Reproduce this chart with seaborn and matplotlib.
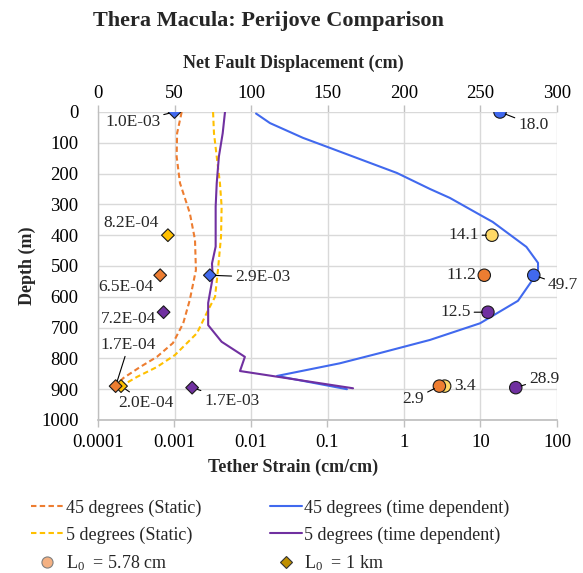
import matplotlib
matplotlib.use("Agg")
import matplotlib.pyplot as plt
import seaborn as sns
import pandas as pd
from matplotlib.lines import Line2D
from matplotlib.ticker import FixedLocator, FixedFormatter, NullLocator

# ---------------- data ----------------
static45_depth = [0, 69, 145, 231, 328, 415, 513, 610, 686, 750, 795, 828, 864, 886]
static45_disp = [54.7, 51.7, 51.4, 53.6, 60, 63.4, 64, 60, 55.7, 49, 38.5, 27.5, 16.5, 12.4]

static5_depth = [0, 69, 145, 231, 307, 405, 513, 600, 643, 718, 789, 828, 860, 886]
static5_disp = [75.2, 75.8, 77.6, 79.7, 80.8, 80.4, 78.4, 76.5, 72, 64.7, 50.3, 38.5, 25.5, 16.5]

td45_depth = [5, 36, 84, 113, 198, 250, 279, 334, 357, 438, 490, 513, 545, 613, 686, 740, 783, 816, 857, 900]
td45_disp = [103.3, 112.4, 134, 149.7, 195.4, 217, 230, 249.7, 258, 280, 287.6, 287.6, 284, 274.5,
             249.7, 217, 184, 158, 117, 162.7]

td5_depth = [0, 69, 145, 231, 307, 437, 492, 537, 620, 692, 746, 795, 841, 897]
td5_disp = [83, 81.5, 79, 77.6, 76.9, 76.9, 74.5, 75, 72, 72, 80.8, 96, 92.8, 166.7]

# markers: L0 = 1 km (diamonds)
dia_series = ["td45", "td45", "st5", "st5", "st45", "st45", "td5", "td5"]
dia_strain = [1.0e-3, 2.9e-3, 8.2e-4, 2.0e-4, 6.5e-4, 1.7e-4, 7.2e-4, 1.7e-3]
dia_depth = [0, 530, 400, 890, 530, 890, 650, 895]
dia_labels = ["1.0E-03", "2.9E-03", "8.2E-04", "2.0E-04", "6.5E-04", "1.7E-04", "7.2E-04", "1.7E-03"]

# markers: L0 = 5.78 cm (circles)
cir_series = ["td45", "td45", "st5", "st5", "st45", "st45", "td5", "td5"]
cir_strain = [18.0, 49.7, 14.1, 3.4, 11.2, 2.9, 12.5, 28.9]
cir_depth = [0, 530, 400, 890, 530, 890, 650, 895]
cir_labels = ["18.0", "49.7", "14.1", "3.4", "11.2", "2.9", "12.5", "28.9"]

top_ticks = [0, 50, 100, 150, 200, 250, 300]
bottom_ticks = [1e-4, 1e-3, 1e-2, 1e-1, 1, 10, 100]
bottom_ticklabels = ["0.0001", "0.001", "0.01", "0.1", "1", "10", "100"]
depth_ticks = [0, 100, 200, 300, 400, 500, 600, 700, 800, 900, 1000]

legend_names = ["45 degrees (Static)", "5 degrees (Static)", "45 degrees (time dependent)",
                "5 degrees (time dependent)", "L$_0$  = 5.78 cm", "L$_0$  = 1 km"]

# ---------------- style ----------------
sns.set_theme(style="white")
plt.rcParams["font.family"] = ["Liberation Serif", "DejaVu Serif"]
plt.rcParams["mathtext.fontset"] = "custom"
plt.rcParams["mathtext.rm"] = "Liberation Serif"
plt.rcParams["mathtext.it"] = "Liberation Serif"
plt.rcParams["mathtext.bf"] = "Liberation Serif:bold"

C_OR = "#ED7D31"
C_YE = "#FFC000"
C_YE_C = "#FFD966"
C_BL = "#4169EE"
C_PU = "#7030A0"
GRID = "#D9D9D9"
TICKFS = 13.5

W, H = 583, 573
fig = plt.figure(figsize=(W / 100, H / 100), dpi=100)
L, R, T, B = 98, 557, 112, 420
ax = fig.add_axes([L / W, 1 - B / H, (R - L) / W, (B - T) / H])

# lines against net fault displacement (top axis)
sns.lineplot(x=static45_disp, y=static45_depth, sort=False, estimator=None, ax=ax, color=C_OR, lw=1.5)
sns.lineplot(x=static5_disp, y=static5_depth, sort=False, estimator=None, ax=ax, color=C_YE, lw=1.5)
sns.lineplot(x=td45_disp, y=td45_depth, sort=False, estimator=None, ax=ax, color=C_BL, lw=1.5)
sns.lineplot(x=td5_disp, y=td5_depth, sort=False, estimator=None, ax=ax, color=C_PU, lw=1.5)
for ln in ax.lines[:2]:
    ln.set_linestyle((0, (2.6, 1.6)))

ax.set_xlim(0, 300)
ax.set_ylim(1000, 0)
ax.set_xlabel("")
ax.set_ylabel("")

# strain axis (bottom, log)
ax2 = ax.twiny()
ax2.set_xscale("log")
ax2.set_xlim(1e-4, 100)
ax2.xaxis.set_ticks_position("bottom")
ax2.xaxis.set_label_position("bottom")
ax2.xaxis.set_major_locator(FixedLocator(bottom_ticks))
ax2.xaxis.set_major_formatter(FixedFormatter(bottom_ticklabels))
ax2.xaxis.set_minor_locator(NullLocator())
for s in ["top", "right", "left"]:
    ax2.spines[s].set_visible(False)
ax2.spines["bottom"].set_color("#BFBFBF")
ax2.tick_params(axis="x", length=5, width=1, color="#BFBFBF", labelsize=TICKFS,
                labelcolor="black", pad=5, direction="out")

# primary axis ticks on top (after twiny, which resets them)
ax.xaxis.set_ticks_position("top")
ax.xaxis.set_label_position("top")
ax.set_xticks(top_ticks)
ax.set_yticks(depth_ticks)
ax.grid(True, color=GRID, lw=1.0)
ax.set_axisbelow(True)
for s in ["top", "right", "bottom"]:
    ax.spines[s].set_visible(False)
ax.spines["left"].set_color("#BFBFBF")
ax.spines["left"].set_linewidth(1.0)
ax.tick_params(axis="x", which="major", length=5, width=1, color="#BFBFBF",
               labelsize=TICKFS, labelcolor="black", pad=2, direction="out",
               top=True, labeltop=True, bottom=False, labelbottom=False)
ax.tick_params(axis="y", which="major", length=5, width=1, color="#BFBFBF",
               labelsize=TICKFS, labelcolor="black", pad=9, direction="out")

pal = {"st45": C_OR, "st5": C_YE, "td45": C_BL, "td5": C_PU}
pal_c = {"st45": C_OR, "st5": C_YE_C, "td45": C_BL, "td5": C_PU}
df_d = pd.DataFrame({"strain": dia_strain, "depth": dia_depth, "series": dia_series})
df_c = pd.DataFrame({"strain": cir_strain, "depth": cir_depth, "series": cir_series})
sns.scatterplot(data=df_d, x="strain", y="depth", hue="series", palette=pal, marker="D", s=42,
                edgecolor="#1a1a1a", linewidth=0.8, legend=False, ax=ax2, zorder=5)
sns.scatterplot(data=df_c, x="strain", y="depth", hue="series", palette=pal_c, marker="o", s=80,
                edgecolor="#1a1a1a", linewidth=0.8, legend=False, ax=ax2, zorder=5)
ax2.set_xlabel("")
ax2.set_ylabel("")
ax2.set_ylim(1000, 0)

# data labels: (dx, dy) in pixels, ha, leader
px = 0.72
dia_ann = [(-14, -10, "right", True), (25, -2, "left", True), (-9, 12, "right", False),
           (25, -17, "center", True), (-7, -12, "right", False), (13, 41, "center", True),
           (-7, -7, "right", False), (12, -13, "left", True)]
cir_ann = [(18, -13, "left", True), (14, -10, "left", True), (-13, 0, "right", True),
           (10, 0, "left", False), (-8, 0, "right", False), (-15, -13, "right", True),
           (-17, 0, "right", True), (13, 9, "left", True)]

def annotate(xs, ys, labels, specs):
    for x, y, lab, (dx, dy, ha, lead) in zip(xs, ys, labels, specs):
        kw = {}
        if lead:
            kw["arrowprops"] = dict(arrowstyle="-", color="black", lw=0.8, shrinkA=0, shrinkB=4)
        ax2.annotate(lab, xy=(x, y), xytext=(dx * px, dy * px), textcoords="offset points",
                     ha=ha, va="center", fontsize=12.5, zorder=6, **kw)

annotate(dia_strain, dia_depth, dia_labels, dia_ann)
annotate(cir_strain, cir_depth, cir_labels, cir_ann)

# titles / axis labels
fig.text(268 / W, 1 - 21 / H, "Thera Macula: Perijove Comparison", ha="center", va="center",
         fontsize=16, fontweight="bold")
fig.text(293 / W, 1 - 63 / H, "Net Fault Displacement (cm)", ha="center", va="center",
         fontsize=13, fontweight="bold")
fig.text(293 / W, 1 - 467 / H, "Tether Strain (cm/cm)", ha="center", va="center",
         fontsize=13, fontweight="bold")
fig.text(27 / W, 1 - 266 / H, "Depth (m)", ha="center", va="center", rotation=90,
         fontsize=13, fontweight="bold")

# legend
handles = [
    Line2D([], [], color=C_OR, lw=1.5, ls=(0, (2.6, 1.6))),
    Line2D([], [], color=C_YE, lw=1.5, ls=(0, (2.6, 1.6))),
    Line2D([], [], ls="none", marker="o", ms=8, mfc="#F4B183", mec="#7f7f7f", mew=0.8),
    Line2D([], [], color=C_BL, lw=1.5),
    Line2D([], [], color=C_PU, lw=1.5),
    Line2D([], [], ls="none", marker="D", ms=6, mfc="#BF8F00", mec="#333333", mew=0.8),
]
labels = [legend_names[0], legend_names[1], legend_names[4],
          legend_names[2], legend_names[3], legend_names[5]]
fig.legend(handles, labels, loc="upper left", bbox_to_anchor=(24 / W, 1 - 492 / H), ncol=2,
           frameon=False, fontsize=13, handlelength=1.8, handletextpad=0.1,
           columnspacing=3.8, labelspacing=0.55, borderaxespad=0)

fig.savefig("out.png", dpi=100)
